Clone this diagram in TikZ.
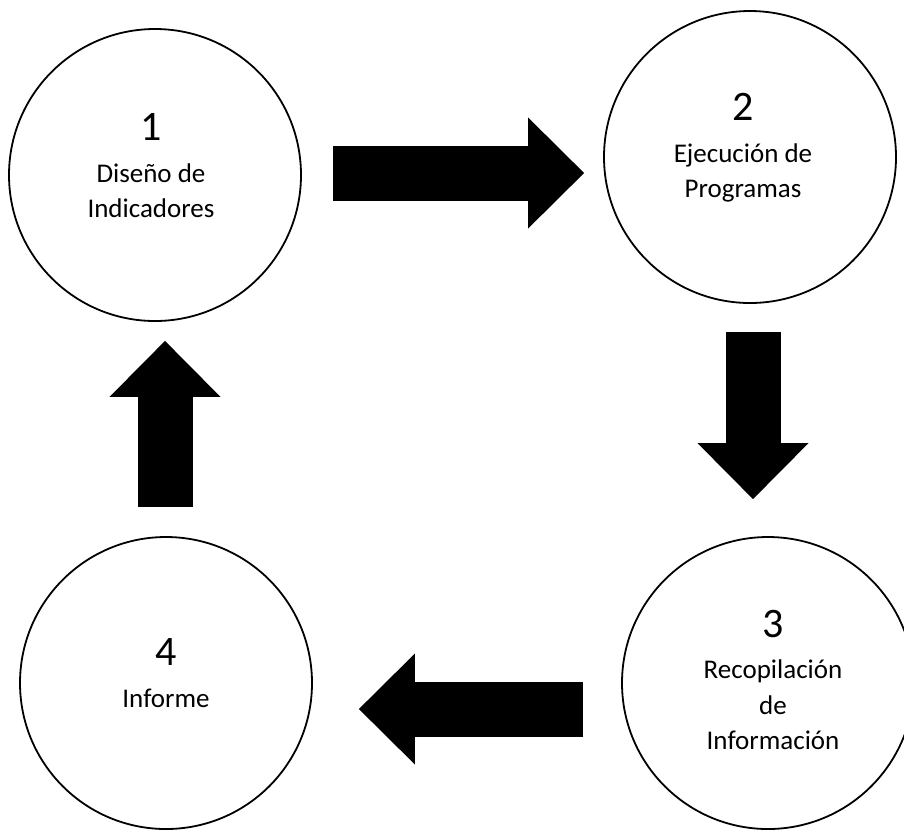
\documentclass[tikz,border=0pt]{standalone}
\usepackage{fontspec}
\setmainfont{Carlito}
\usetikzlibrary{arrows.meta}

\tikzset{
  stage/.style={draw,circle,line width=.9pt,minimum size=146pt,inner sep=0pt},
  stagetext/.style={align=center,font=\fontsize{13.5}{17.75}\selectfont},
  bigarrow/.style={line width=27.5pt,-{Triangle[length=28pt,width=55.5pt,line width=0pt]}}
}
\newcommand{\stagenum}[1]{{\fontsize{21}{21}\selectfont #1}\\[3pt]}

\begin{document}
\begin{tikzpicture}[x=.5pt,y=-.5pt]
  \useasboundingbox (0,0) rectangle (904,832);
  % the four stages of the cycle
  \foreach \n/\x/\y in {1/155/175,2/750/157,3/768/683,4/166/683}{%
    \node[stage] (c\n) at (\x,\y) {};
  }
  \node[stagetext] (t1) at ([shift={(-4,-9)}]c1) {\stagenum{1}Diseño de\\Indicadores};
  \node[stagetext] (t2) at ([shift={(-7,-9)}]c2) {\stagenum{2}Ejecución de\\Programas};
  \node[stagetext] (t3) at ([shift={(5,-3)}]c3) {\stagenum{3}Recopilación\\de\\Información};
  \node[stagetext] (t4) at ([shift={(0,-10)}]c4) {\stagenum{4}Informe};
  % block arrows between the stages
  \draw[bigarrow] ([shift={(31,-2)}]c1.east) -- ([shift={(-19,16)}]c2.west);
  \draw[bigarrow] ([shift={(3,28)}]c2.south) -- ([shift={(-15,-37)}]c3.north);
  \draw[bigarrow] ([shift={(-38,26)}]c3.west) -- ([shift={(46,26)}]c4.east);
  \draw[bigarrow] ([shift={(-1,-29)}]c4.north) -- ([shift={(10,19)}]c1.south);
\end{tikzpicture}
\end{document}
